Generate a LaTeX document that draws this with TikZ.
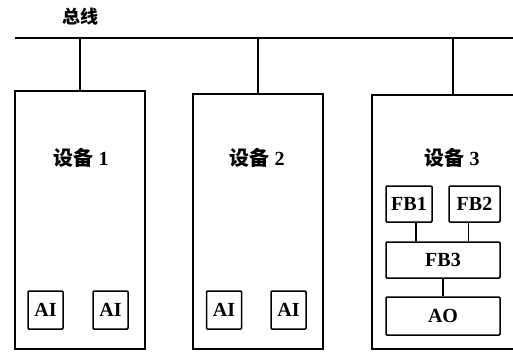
\documentclass[tikz,border=0pt]{standalone}
\usepackage{fontspec}
\setmainfont{Liberation Serif}
\newfontfamily\cjk{Noto Sans CJK SC}
\usetikzlibrary{positioning}

\tikzset{
    devbox/.style={draw, line width=1.6pt, inner sep=0pt, anchor=north west},
    fbbox/.style={draw, line width=1.5pt, rounded corners=1pt, inner sep=0pt,
        minimum height=36pt, font=\bfseries\fontsize{20}{20}\selectfont},
    devlabel/.style={inner sep=0pt, font=\bfseries\fontsize{20}{20}\selectfont},
    wire/.style={line width=1.6pt}
}

\begin{document}
\begin{tikzpicture}[x=1pt, y=-1pt]
    \useasboundingbox (0,0) rectangle (513,354);
    \clip (0,0) rectangle (513,354);

    % bus
    \node[inner sep=0pt, font=\cjk\bfseries\fontsize{18}{18}\selectfont] (buslabel) at (80,17) {总线};
    \coordinate (busL) at (15,38);
    \coordinate (busR) at (513,38);
    \draw[wire] (busL) -- (busR);

    % devices
    \node[devbox, minimum width=130pt, minimum height=258pt] (dev1) at (14,90) {};
    \node[devbox, minimum width=130pt, minimum height=255pt] (dev2) at (192,93) {};
    \node[devbox, minimum width=162pt, minimum height=254pt] (dev3) at (371,94) {};
    \draw[wire] (dev1.north) -- (dev1.north |- busL);
    \draw[wire] (dev2.north) -- (dev2.north |- busL);
    \draw[wire] (dev3.north) -- (dev3.north |- busL);

    \node[devlabel] (lab1) at (81,158) {{\cjk 设备} 1};
    \node[devlabel] (lab2) at (257,158) {{\cjk 设备} 2};
    \node[devlabel] (lab3) at (452,158) {{\cjk 设备} 3};

    % function blocks
    \node[fbbox, minimum width=35pt, minimum height=38pt] (ai1) at (45.5,310) {AI};
    \node[fbbox, minimum width=35pt, minimum height=38pt] (ai2) at (110.5,310) {AI};
    \node[fbbox, minimum width=35pt, minimum height=38pt] (ai3) at (224,310) {AI};
    \node[fbbox, minimum width=35pt, minimum height=38pt] (ai4) at (288.5,310) {AI};

    \node[fbbox, minimum width=46pt] (fb1) at (409,204) {FB1};
    \node[fbbox, minimum width=51pt] (fb2) at (474.5,204) {FB2};
    \node[fbbox, minimum width=114pt] (fb3) at (443,260) {FB3};
    \node[fbbox, minimum width=114pt, minimum height=38pt] (ao) at (443,316) {AO};

    \draw[wire] ([xshift=7pt]fb1.south) -- ([xshift=7pt]fb1.south |- fb3.north);
    \draw[wire] ([xshift=-6pt]fb2.south) -- ([xshift=-6pt]fb2.south |- fb3.north);
    \draw[wire] (fb3.south) -- (ao.north);
\end{tikzpicture}
\end{document}
